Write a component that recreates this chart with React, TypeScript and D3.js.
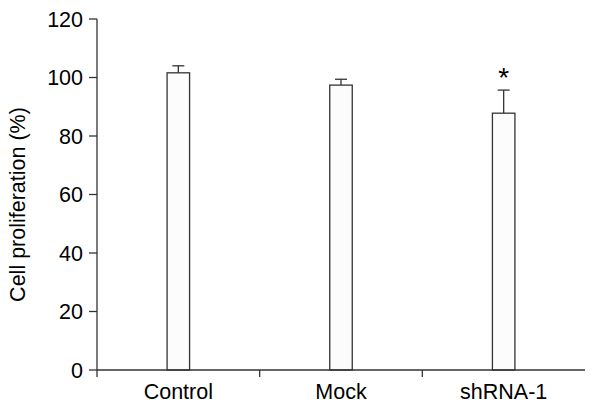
import React from 'react';
import * as d3 from 'd3';

const categories = ['Control', 'Mock', 'shRNA-1'];
const means = [101.6, 97.4, 87.8];
const errors = [2.4, 2.0, 7.9];
const significant = [false, false, true];
const yTicks = [0, 20, 40, 60, 80, 100, 120];

const width = 592;
const height = 403;
const margin = { top: 19, right: 7, bottom: 33, left: 97 };
const font = '"Liberation Sans", Arial, sans-serif';
const stroke = '#333';
const fs = 21.5;

export default function App() {
  const innerW = width - margin.left - margin.right;
  const innerH = height - margin.top - margin.bottom;

  const x = d3.scaleBand<string>().domain(categories).range([0, innerW]);
  const y = d3.scaleLinear().domain([0, 120]).range([innerH, 0]);
  const barW = 22.5;
  const capW = 12;

  return (
    <svg width={width} height={height} style={{ position: 'absolute', left: 0, top: 0, background: '#fff' }}>
      <g transform={`translate(${margin.left},${margin.top})`} fontFamily={font}>
        {/* bars */}
        {categories.map((c, i) => {
          const cx = (x(c) ?? 0) + x.bandwidth() / 2;
          const top = y(means[i]);
          const errTop = y(means[i] + errors[i]);
          return (
            <g key={c}>
              <line x1={cx} x2={cx} y1={top} y2={errTop} stroke={stroke} strokeWidth={1.3} />
              <line x1={cx - capW / 2} x2={cx + capW / 2} y1={errTop} y2={errTop} stroke={stroke} strokeWidth={1.3} />
              <rect x={cx - barW / 2} y={top} width={barW} height={innerH - top}
                fill="#fcfcfc" stroke={stroke} strokeWidth={1.3} />
              {significant[i] && (
                <text x={cx} y={errTop - 3} textAnchor="middle" fontSize={28} fill="#000">*</text>
              )}
            </g>
          );
        })}

        {/* y axis */}
        <line x1={0} x2={0} y1={0} y2={innerH} stroke={stroke} strokeWidth={1.3} />
        {yTicks.map(t => (
          <g key={t} transform={`translate(0,${y(t)})`}>
            <line x1={-8} x2={0} stroke={stroke} strokeWidth={1.3} />
            <text x={-14} dy="0.36em" textAnchor="end" fontSize={fs} fill="#000">{t}</text>
          </g>
        ))}
        <text transform={`translate(${-72},${innerH / 2 + 10}) rotate(-90)`} textAnchor="middle"
          fontSize={fs} fill="#000">Cell proliferation (%)</text>

        {/* x axis */}
        <line x1={0} x2={innerW} y1={innerH} y2={innerH} stroke={stroke} strokeWidth={1.3} />
        {categories.map(c => (
          <line key={'t' + c} x1={x(c) ?? 0} x2={x(c) ?? 0} y1={innerH} y2={innerH + 7}
            stroke={stroke} strokeWidth={1.3} />
        ))}
        {categories.map(c => (
          <text key={'l' + c} x={(x(c) ?? 0) + x.bandwidth() / 2} y={innerH + 29}
            textAnchor="middle" fontSize={fs} fill="#000">{c}</text>
        ))}
      </g>
    </svg>
  );
}
